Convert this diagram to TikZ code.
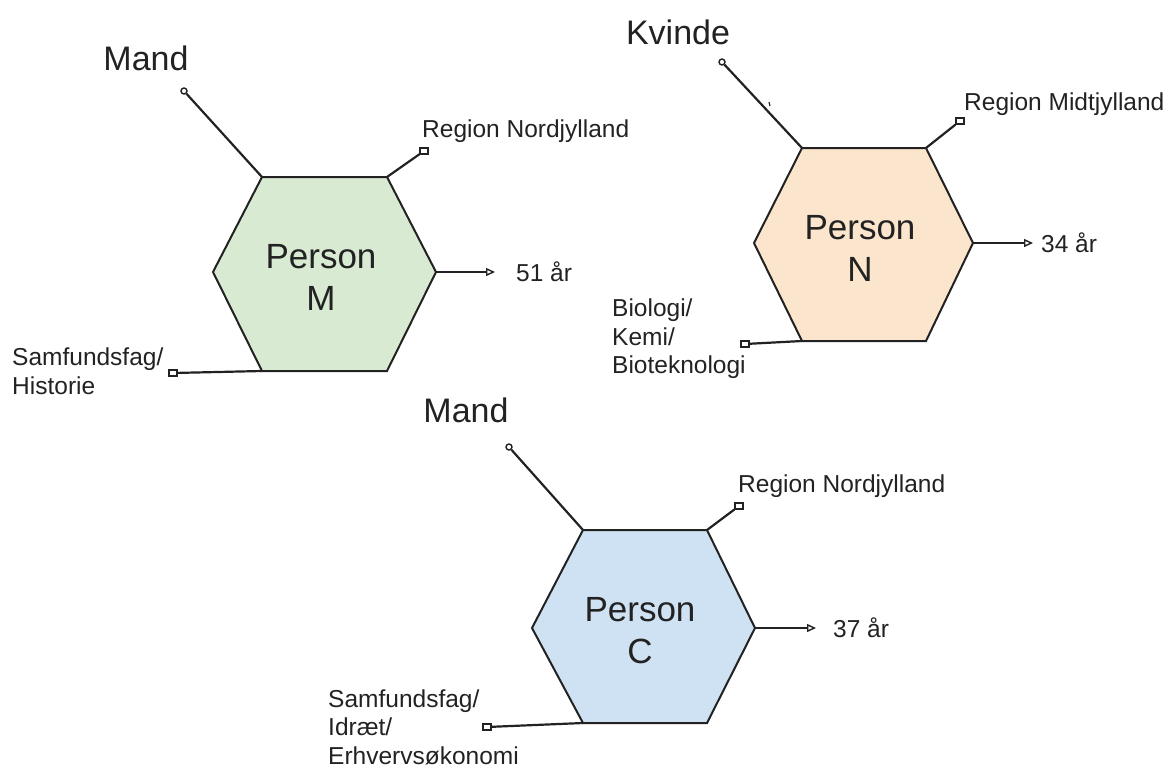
\documentclass[tikz,border=0pt]{standalone}
\usepackage{fontspec}
\setmainfont{Liberation Sans}
\usetikzlibrary{arrows.meta}
\definecolor{ink}{HTML}{222222}
\definecolor{mfill}{HTML}{D9EAD3}
\definecolor{nfill}{HTML}{FCE5CD}
\definecolor{cfill}{HTML}{CFE2F3}
\tikzset{
  hexa/.style={draw=ink, line width=2pt, line join=miter},
  big/.style={font=\fontsize{35}{42}\selectfont, text=ink, align=center, inner sep=0},
  head/.style={font=\fontsize{34}{40}\selectfont, text=ink, inner sep=0},
  small/.style={font=\fontsize{24.5}{28.5}\selectfont, text=ink, align=left, anchor=west, inner sep=0},
  link/.style={draw=ink, line width=2.2pt},
  dot/.style={circle, draw=ink, line width=1.4pt, fill=white, inner sep=0, minimum size=6pt},
  box/.style={rectangle, draw=ink, line width=1.4pt, fill=white, inner sep=0, minimum width=8pt, minimum height=6pt},
  tip/.style={-{Triangle[open,length=9pt,width=8pt,line width=1.4pt]}}
}
\begin{document}
\begin{tikzpicture}[x=1pt,y=-1pt]
\useasboundingbox (0,0) rectangle (1176,772);

% ---------- Person M ----------
\coordinate (m-tl) at (262,177);
\coordinate (m-tr) at (387,177);
\coordinate (m-r)  at (436,272);
\coordinate (m-br) at (387,371);
\coordinate (m-bl) at (262,371);
\coordinate (m-l)  at (213,272);
\draw[hexa, fill=mfill] (m-tl) -- (m-tr) -- (m-r) -- (m-br) -- (m-bl) -- (m-l) -- cycle;
\node[big] (m-name) at (321,277) {Person\\M};

\node[head] (m-sex-t) at (146,58) {Mand};
\node[dot] (m-sex) at (184,91) {};
\draw[link] (m-tl) -- (m-sex);

\node[small] (m-reg-t) at (422,131) {Region Nordjylland};
\node[box] (m-reg) at (424,151) {};
\draw[link] (m-tr) -- (m-reg);

\node[small] (m-age-t) at (516,272) {51 år};
\coordinate (m-age) at (495,272);
\draw[link,tip] (m-r) -- (m-age);

\node[small] (m-fag-t) at (12,371) {Samfundsfag/\\Historie};
\node[box] (m-fag) at (173,373) {};
\draw[link] (m-bl) -- (m-fag);

% ---------- Person N ----------
\coordinate (n-tl) at (802,148);
\coordinate (n-tr) at (926,148);
\coordinate (n-r)  at (973,243);
\coordinate (n-br) at (926,341);
\coordinate (n-bl) at (802,341);
\coordinate (n-l)  at (754,243);
\draw[hexa, fill=nfill] (n-tl) -- (n-tr) -- (n-r) -- (n-br) -- (n-bl) -- (n-l) -- cycle;
\node[big] (n-name) at (860,248) {Person\\N};

\node[head] (n-sex-t) at (678,32) {Kvinde};
\node[dot] (n-sex) at (722,62) {};
\draw[link] (n-tl) -- (n-sex);
\draw[ink, line width=1.2pt] (769,102) -- (770,106);

\node[small] (n-reg-t) at (964,104) {Region Midtjylland};
\node[box] (n-reg) at (960,121) {};
\draw[link] (n-tr) -- (n-reg);

\node[small] (n-age-t) at (1041,243) {34 år};
\coordinate (n-age) at (1033,243);
\draw[link,tip] (n-r) -- (n-age);

\node[small] (n-fag-t) at (612,339) {Biologi/\\Kemi/\\Bioteknologi};
\node[box] (n-fag) at (745,344) {};
\draw[link] (n-bl) -- (n-fag);

% ---------- Person C ----------
\coordinate (c-tl) at (583,530);
\coordinate (c-tr) at (707,530);
\coordinate (c-r)  at (755,628);
\coordinate (c-br) at (707,723);
\coordinate (c-bl) at (583,723);
\coordinate (c-l)  at (532,628);
\draw[hexa, fill=cfill] (c-tl) -- (c-tr) -- (c-r) -- (c-br) -- (c-bl) -- (c-l) -- cycle;
\node[big] (c-name) at (640,631) {Person\\C};

\node[head] (c-sex-t) at (466,410) {Mand};
\node[dot] (c-sex) at (509,447) {};
\draw[link] (c-tl) -- (c-sex);

\node[small] (c-reg-t) at (738,486) {Region Nordjylland};
\node[box] (c-reg) at (739,506) {};
\draw[link] (c-tr) -- (c-reg);

\node[small] (c-age-t) at (833,628) {37 år};
\coordinate (c-age) at (816,628);
\draw[link,tip] (c-r) -- (c-age);

\node[small] (c-fag-t) at (328,727) {Samfundsfag/\\Idræt/\\Erhvervsøkonomi};
\node[box] (c-fag) at (487,727) {};
\draw[link] (c-bl) -- (c-fag);
\end{tikzpicture}
\end{document}
